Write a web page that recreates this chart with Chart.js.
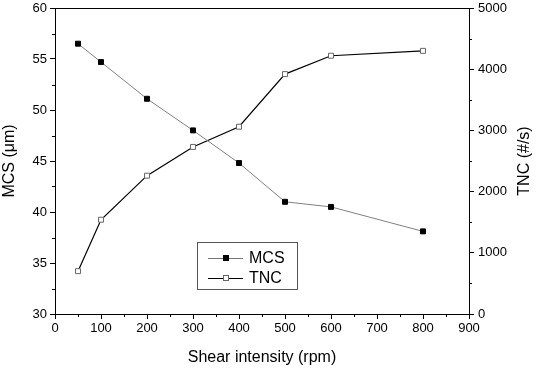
<!DOCTYPE html>
<html>
<head>
<meta charset="utf-8">
<script src="https://cdn.jsdelivr.net/npm/chart.js@4"></script>
<style>
  html, body { margin: 0; padding: 0; background: #fff; }
  #wrap { width: 536px; height: 371px; }
</style>
</head>
<body>
<div id="wrap"><canvas id="shearChart" width="536" height="371"></canvas></div>
<script>
// data
const shearRpm = [50, 100, 200, 300, 400, 500, 600, 800];
const mcsValues = [56.5, 54.7, 51.1, 48.0, 44.8, 41.0, 40.5, 38.1];
const tncValues = [700, 1540, 2260, 2730, 3060, 3920, 4220, 4300];
const legendLabels = ["MCS", "TNC"];
const rightTitle = "TNC (#/s)";

const FONT = "'Liberation Sans', Arial, sans-serif";

// minor ticks, top frame, right axis title and the boxed legend
const extras = {
  id: "extras",
  afterDraw(chart) {
    const ctx = chart.ctx;
    const a = chart.chartArea;
    const x = chart.scales.x, yl = chart.scales.y, yr = chart.scales.y2;
    ctx.save();
    ctx.strokeStyle = "#000";
    ctx.lineWidth = 1;
    ctx.beginPath();
    ctx.moveTo(a.left, a.top + 0.5);
    ctx.lineTo(a.right, a.top + 0.5);
    // minor ticks
    for (let v = 50; v < 900; v += 100) {
      const px = Math.round(x.getPixelForValue(v)) + 0.5;
      ctx.moveTo(px, a.bottom);
      ctx.lineTo(px, a.bottom + 3);
    }
    for (let v = 32.5; v < 60; v += 5) {
      const py = Math.round(yl.getPixelForValue(v)) + 0.5;
      ctx.moveTo(a.left, py);
      ctx.lineTo(a.left - 3, py);
    }
    for (let v = 500; v < 5000; v += 1000) {
      const py = Math.round(yr.getPixelForValue(v)) + 0.5;
      ctx.moveTo(a.right, py);
      ctx.lineTo(a.right + 3, py);
    }
    ctx.stroke();

    // right title reads bottom to top, like the left one
    ctx.save();
    ctx.translate(525, (a.top + a.bottom) / 2);
    ctx.rotate(-Math.PI / 2);
    ctx.font = "16px " + FONT;
    ctx.fillStyle = "#000";
    ctx.textAlign = "center";
    ctx.textBaseline = "middle";
    ctx.fillText(rightTitle, 0, 0);
    ctx.restore();

    // legend box
    const bx = 197.5, by = 242.5, bw = 100, bh = 47;
    ctx.strokeStyle = "#555";
    ctx.strokeRect(bx, by, bw, bh);
    const rows = [
      { y: 258, line: "#777", fill: "#000", stroke: "#000" },
      { y: 278, line: "#000", fill: "#fff", stroke: "#666" }
    ];
    ctx.font = "16px " + FONT;
    ctx.textBaseline = "middle";
    rows.forEach((r, i) => {
      ctx.strokeStyle = r.line;
      ctx.beginPath();
      ctx.moveTo(208, r.y + 0.5);
      ctx.lineTo(243, r.y + 0.5);
      ctx.stroke();
      ctx.fillStyle = r.fill;
      ctx.fillRect(223, r.y - 3, 6, 6);
      ctx.strokeStyle = r.stroke;
      ctx.strokeRect(223.5, r.y - 2.5, 5, 5);
      ctx.fillStyle = "#000";
      ctx.fillText(legendLabels[i], 249, r.y + 1);
    });
    ctx.restore();
  }
};

const tickFont = { family: FONT, size: 13 };
const titleFont = { family: FONT, size: 16 };

function fitY(width) {
  return s => { s.width = width; s.paddingTop = 8; s.paddingBottom = 0; };
}

new Chart(document.getElementById("shearChart").getContext("2d"), {
  type: "line",
  data: {
    datasets: [{
      label: legendLabels[0],
      data: shearRpm.map((x, i) => ({ x: x, y: mcsValues[i] })),
      yAxisID: "y",
      borderColor: "#808080",
      borderWidth: 1,
      pointStyle: "rect",
      pointRadius: 3.5,
      pointBackgroundColor: "#000",
      pointBorderColor: "#000",
      pointBorderWidth: 1,
      tension: 0
    }, {
      label: legendLabels[1],
      data: shearRpm.map((x, i) => ({ x: x, y: tncValues[i] })),
      yAxisID: "y2",
      borderColor: "#000",
      borderWidth: 1.2,
      pointStyle: "rect",
      pointRadius: 3.5,
      pointBackgroundColor: "#fff",
      pointBorderColor: "#666",
      pointBorderWidth: 1,
      tension: 0
    }]
  },
  options: {
    responsive: false,
    animation: false,
    layout: { padding: 0 },
    plugins: { legend: { display: false }, tooltip: { enabled: false } },
    scales: {
      x: {
        type: "linear",
        min: 0, max: 900,
        afterFit(s) { s.height = 57; s.paddingLeft = 0; s.paddingRight = 0; },
        ticks: { stepSize: 100, color: "#000", font: tickFont, padding: 2, maxRotation: 0 },
        grid: { drawOnChartArea: false, tickLength: 5, tickColor: "#000" },
        border: { color: "#000", width: 1 },
        title: { display: true, text: "Shear intensity (rpm)", color: "#000", font: titleFont, padding: { top: 7 } }
      },
      y: {
        position: "left",
        min: 30, max: 60,
        afterFit: fitY(55),
        ticks: { stepSize: 5, color: "#000", font: tickFont, padding: 3 },
        grid: { drawOnChartArea: false, tickLength: 5, tickColor: "#000" },
        border: { color: "#000", width: 1 },
        title: { display: true, text: "MCS (μm)", color: "#000", font: titleFont, padding: 0 }
      },
      y2: {
        position: "right",
        min: 0, max: 5000,
        afterFit: fitY(67),
        ticks: { stepSize: 1000, color: "#000", font: tickFont, padding: 4, callback: v => String(v) },
        grid: { drawOnChartArea: false, tickLength: 5, tickColor: "#000" },
        border: { color: "#000", width: 1 },
        title: { display: false }
      }
    }
  },
  plugins: [extras]
});
</script>
</body>
</html>
